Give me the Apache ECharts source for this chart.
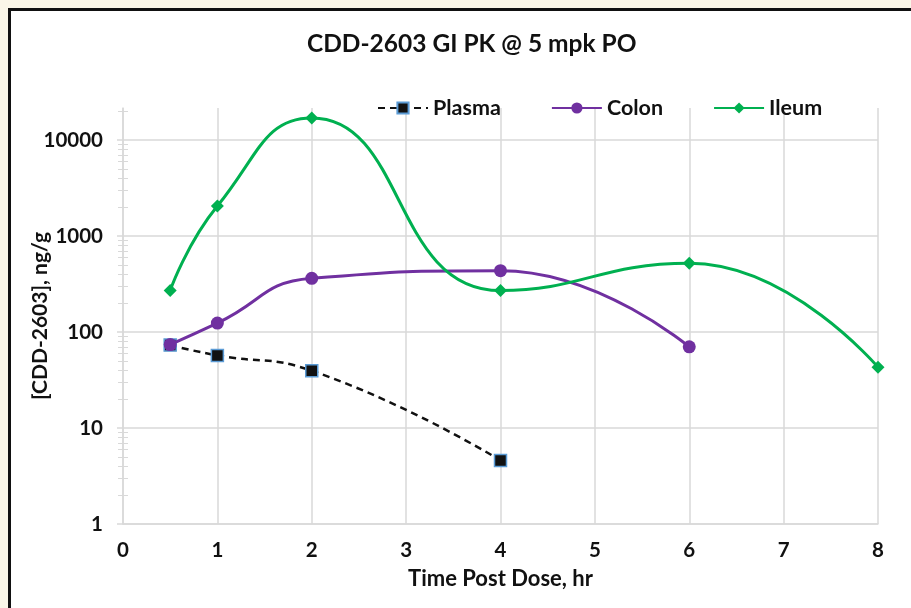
<!DOCTYPE html>
<html>
<head>
<meta charset="utf-8">
<script src="https://cdn.jsdelivr.net/npm/echarts@6/dist/echarts.min.js"></script>
<style>
  html, body { margin: 0; padding: 0; width: 911px; height: 608px; overflow: hidden; background: #FAF6E8; }
  #frame { position: absolute; left: 8px; top: 8px; width: 960px; height: 660px; background: #fff; border-left: 3px solid #111; border-top: 3px solid #111; }
  #chart { position: absolute; left: 0; top: 0; width: 911px; height: 608px; }
</style>
</head>
<body>
<div id="frame"></div>
<div id="chart"></div>
<script>
const titleText = 'CDD-2603 GI PK @ 5 mpk PO';
const xName = 'Time Post Dose, hr';
const yName = '[CDD-2603], ng/g';

const plasmaData = [[0.5, 73], [1, 57], [2, 39.5], [4, 4.6]];
const colonData  = [[0.5, 74], [1, 124], [2, 362], [4, 435], [6, 70]];
const ileumData  = [[0.5, 270], [1, 2050], [2, 17000], [4, 270], [6, 520], [8, 43]];

const yMin = 1;
const yMax = 21544;
const minorTickValues = [
  2,3,4,5,6,7,8,9,
  20,30,40,50,60,70,80,90,
  200,300,400,500,600,700,800,900,
  2000,3000,4000,5000,6000,7000,8000,9000,
  20000
];

const FONT = 'Lato, "Open Sans", sans-serif';
const chart = echarts.init(document.getElementById('chart'), null, { renderer: 'canvas' });

const gridColor = '#D9D9D9';
const minorAxisBase = {
  type: 'log', logBase: 10, min: yMin, max: yMax, position: 'left',
  axisLine: { show: false }, axisLabel: { show: false }, splitLine: { show: false },
  axisTick: { show: true, customValues: minorTickValues, length: 5, lineStyle: { color: gridColor, width: 1 } }
};

chart.setOption({
  backgroundColor: 'transparent',
  animation: false,
  textStyle: { fontFamily: FONT },
  title: {
    text: titleText, left: 302, top: 27,
    textStyle: { fontFamily: FONT, fontWeight: 'bold', fontSize: 24.5, color: '#111' }
  },
  legend: {
    left: 372, top: 92, itemWidth: 50, itemHeight: 14, itemGap: 50,
    textStyle: { fontFamily: FONT, fontWeight: 'bold', fontSize: 21.5, color: '#111' },
    data: ['Plasma', 'Colon', 'Ileum']
  },
  grid: { left: 123, right: 33, top: 108, bottom: 84, containLabel: false },
  xAxis: {
    type: 'value', min: 0, max: 8, interval: 1,
    name: xName, nameLocation: 'middle', nameGap: 44, nameMoveOverlap: false,
    nameTextStyle: { fontFamily: FONT, fontWeight: 'bold', fontSize: 22, color: '#111' },
    axisLine: { show: true, lineStyle: { color: gridColor, width: 1.5 } },
    axisTick: { show: false },
    axisLabel: { fontFamily: FONT, fontWeight: 'bold', fontSize: 20.5, color: '#111', margin: 16 },
    splitLine: { show: true, lineStyle: { color: gridColor, width: 1.5 } }
  },
  yAxis: [
    {
      type: 'log', logBase: 10, min: yMin, max: yMax,
      name: yName, nameLocation: 'middle', nameGap: 72, nameRotate: 90, nameMoveOverlap: false,
      nameTextStyle: { fontFamily: FONT, fontWeight: 'bold', fontSize: 21, color: '#111' },
      axisLine: { show: true, lineStyle: { color: gridColor, width: 1.5 } },
      axisTick: { show: true, length: 6, lineStyle: { color: gridColor, width: 1.5 } },
      axisLabel: {
        fontFamily: FONT, fontWeight: 'bold', fontSize: 20.5, color: '#111', margin: 20, showMaxLabel: false,
        formatter: function (v) { return String(Math.round(v)); }
      },
      splitLine: { show: true, showMaxLine: false, lineStyle: { color: gridColor, width: 1.5 } }
    },
    Object.assign({}, minorAxisBase, { axisTick: Object.assign({}, minorAxisBase.axisTick, { inside: false }) }),
    Object.assign({}, minorAxisBase, { axisTick: Object.assign({}, minorAxisBase.axisTick, { inside: true }) })
  ],
  series: [
    {
      name: 'Plasma', type: 'line', data: plasmaData, smooth: 0.5,
      symbol: 'rect', symbolSize: 12,
      lineStyle: { color: '#111', width: 2.5, type: [7, 5] },
      itemStyle: { color: '#111', borderColor: '#5B9BD5', borderWidth: 1.5 },
      z: 3
    },
    {
      name: 'Colon', type: 'line', data: colonData, smooth: 0.5,
      symbol: 'circle', symbolSize: 13,
      lineStyle: { color: '#7030A0', width: 3 },
      itemStyle: { color: '#7030A0' },
      z: 4
    },
    {
      name: 'Ileum', type: 'line', data: ileumData, smooth: 0.5,
      symbol: 'diamond', symbolSize: 13,
      lineStyle: { color: '#00B050', width: 3 },
      itemStyle: { color: '#00B050' },
      z: 5
    }
  ]
});
</script>
</body>
</html>
